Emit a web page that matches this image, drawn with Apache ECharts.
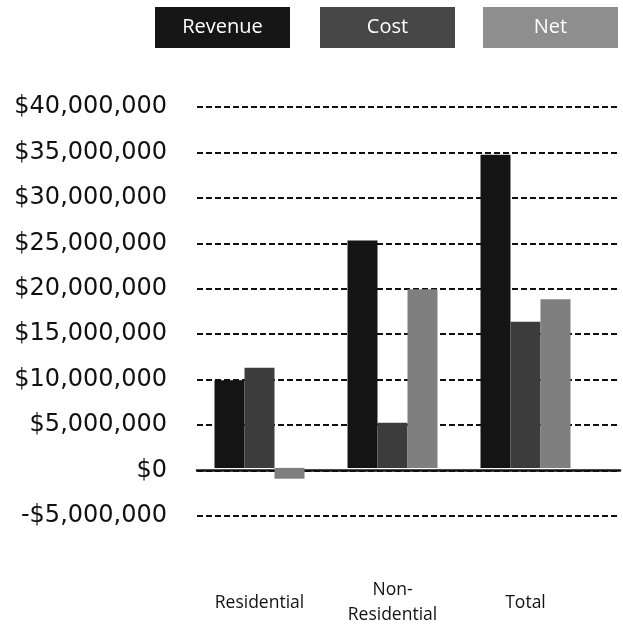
<!DOCTYPE html>
<html>
<head>
<meta charset="utf-8">
<script src="https://cdn.jsdelivr.net/npm/echarts@6/dist/echarts.min.js"></script>
<style>
html,body{margin:0;padding:0;background:#fff;}
#chart{width:623px;height:628px;}
</style>
</head>
<body>
<div id="chart"></div>
<script>
// data
const categories = ['Residential', 'Non-\nResidential', 'Total']
const seriesNames = ['Revenue', 'Cost', 'Net']
const revenue = [9700000, 25200000, 34700000]
const cost = [11100000, 5000000, 16200000]
const net = [-1200000, 19800000, 18700000]
const yTicks = [-5000000, 40000000, 5000000] // min, max, step

const chart = echarts.init(document.getElementById('chart'))
const font = '"Open Sans", "DejaVu Sans", sans-serif'
const colors = ['#141414', '#3c3c3c', '#7f7f7f']
const legendColors = ['#161616', '#474747', '#8e8e8e']
const legendX = [155, 320, 483]

function money(v){
    const s = Math.abs(v).toLocaleString('en-US')
    return (v < 0 ? '-$' : '$') + s
}

// legend boxes with the name inside
const legendBoxes = seriesNames.map((name, i) => {
    return {
        type: 'group', left: legendX[i], top: 7,
        children: [
            {type: 'rect', shape: {x: 0, y: 0, width: 135, height: 41},
                style: {fill: legendColors[i]}},
            {type: 'text', x: 67.5, y: 20.5,
                style: {text: name, fill: '#fff', fontSize: 20, fontFamily: font,
                    align: 'center', verticalAlign: 'middle'}}
        ]
    }
})

const option = {
    animation: false,
    backgroundColor: '#fff',
    graphic: legendBoxes,
    grid: [
        // bars
        {left: 193, right: 31, top: 107, bottom: 112},
        // gridlines and y labels span the wider area
        {left: 197, right: 3, top: 107, bottom: 112}
    ],
    xAxis: [
        {
            type: 'category', gridIndex: 0, data: categories,
            axisLine: {show: false, onZero: false},
            axisTick: {show: false},
            axisLabel: {
                margin: 90, verticalAlign: 'middle', lineHeight: 25,
                fontSize: 17.5, color: '#111', fontFamily: font
            }
        },
        {
            type: 'value', gridIndex: 1, min: 0, max: 1,
            axisLine: {show: true, onZero: true, lineStyle: {color: '#111', width: 2.5}},
            axisTick: {show: false}, axisLabel: {show: false}, splitLine: {show: false}
        }
    ],
    yAxis: [
        {
            type: 'value', gridIndex: 0,
            min: yTicks[0], max: yTicks[1], interval: yTicks[2],
            axisLine: {show: false}, axisTick: {show: false},
            axisLabel: {show: false}, splitLine: {show: false}
        },
        {
            type: 'value', gridIndex: 1,
            min: yTicks[0], max: yTicks[1], interval: yTicks[2],
            axisLine: {show: false}, axisTick: {show: false},
            axisLabel: {
                margin: 30, fontSize: 24, color: '#111',
                fontFamily: '"DejaVu Sans", sans-serif',
                formatter: money
            },
            splitLine: {lineStyle: {color: '#111', width: 2, type: [6, 3]}}
        }
    ],
    series: [
        {name: seriesNames[0], type: 'bar', data: revenue, barWidth: 30, barGap: '0%',
            itemStyle: {color: colors[0]}},
        {name: seriesNames[1], type: 'bar', data: cost, barWidth: 30, barGap: '0%',
            itemStyle: {color: colors[1]}},
        {name: seriesNames[2], type: 'bar', data: net, barWidth: 30, barGap: '0%',
            itemStyle: {color: colors[2]}}
    ]
}
chart.setOption(option)
</script>
</body>
</html>
